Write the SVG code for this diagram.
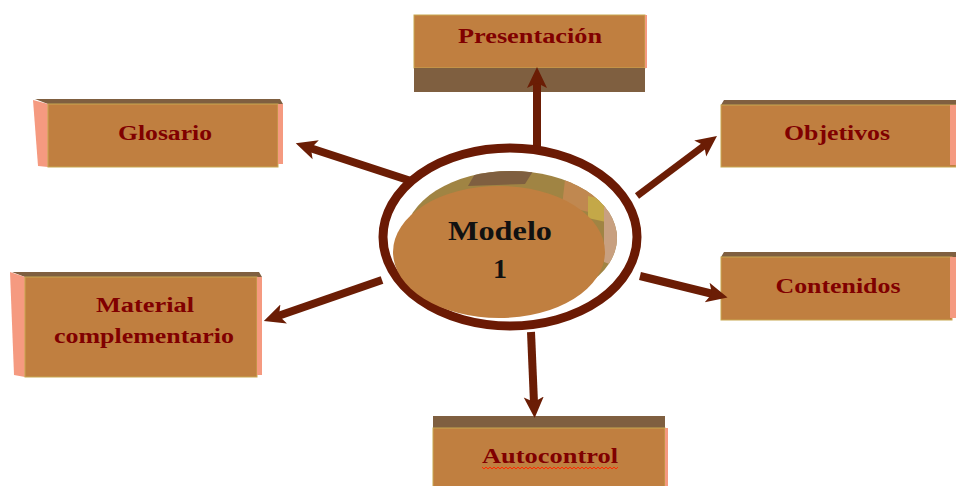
<svg xmlns="http://www.w3.org/2000/svg" width="956" height="486" viewBox="0 0 956 486">
<style>
.front{fill:#c07f40;stroke:#c8a850;stroke-width:1}
.top{fill:#7f5f40}
.side{fill:#f59a80}
.lbl{font-family:"Liberation Serif","DejaVu Serif",serif;font-weight:bold;font-size:20px;fill:#800000;text-anchor:middle}
.conn{stroke:#6b1d05;stroke-width:8;fill:none;marker-end:url(#ah)}
</style>
<defs>
<marker id="ah" markerUnits="userSpaceOnUse" markerWidth="24" markerHeight="24" refX="6" refY="10" orient="auto" viewBox="0 0 24 20">
<path d="M0,0 L21,10 L0,20 L5,10 z" fill="#6b1d05"/>
</marker>
<clipPath id="disc">
<ellipse cx="511" cy="238" rx="106" ry="67"/>
</clipPath>
</defs>
<rect width="956" height="486" fill="#ffffff"/>

<g id="presentacion">
<rect class="front" x="414" y="15" width="231" height="53"/>
<rect class="top" x="414" y="68" width="231" height="24"/>
<rect class="side" x="645" y="15" width="2" height="53"/>
<text class="lbl" x="530" y="43" textLength="144" lengthAdjust="spacingAndGlyphs">Presentación</text>
</g>

<g id="glosario">
<polygon class="top" points="35,99 280,99 283,104 48,104"/>
<polygon class="side" points="33,100 48,104 48,167 38,166"/>
<rect class="front" x="48" y="104" width="230" height="63"/>
<rect class="side" x="278" y="104" width="5" height="60"/>
<text class="lbl" x="165" y="140" textLength="94" lengthAdjust="spacingAndGlyphs">Glosario</text>
</g>

<g id="objetivos">
<polygon class="top" points="724,100 956,100 956,105 721,105"/>
<rect class="front" x="721" y="105" width="235" height="62"/>
<rect class="side" x="950" y="105" width="6" height="60"/>
<text class="lbl" x="837" y="140" textLength="106" lengthAdjust="spacingAndGlyphs">Objetivos</text>
</g>

<g id="contenidos">
<polygon class="top" points="724,252 956,252 956,257 721,257"/>
<rect class="front" x="721" y="257" width="231" height="63"/>
<rect class="side" x="950" y="257" width="6" height="61"/>
<text class="lbl" x="838" y="293" textLength="125" lengthAdjust="spacingAndGlyphs">Contenidos</text>
</g>

<g id="material">
<polygon class="top" points="12,272 259,272 262,277 25,277"/>
<polygon class="side" points="10,272 25,277 25,377 14,375"/>
<rect class="front" x="25" y="277" width="232" height="100"/>
<rect class="side" x="257" y="277" width="5" height="98"/>
<text class="lbl" x="145" y="312" textLength="98" lengthAdjust="spacingAndGlyphs">Material</text>
<text class="lbl" x="144" y="343" textLength="180" lengthAdjust="spacingAndGlyphs">complementario</text>
</g>

<g id="autocontrol">
<rect class="top" x="433" y="416" width="232" height="12"/>
<rect class="front" x="433" y="428" width="232" height="60"/>
<rect class="side" x="665" y="428" width="3" height="58"/>
<text class="lbl" x="550" y="463" textLength="136" lengthAdjust="spacingAndGlyphs">Autocontrol</text>
<polyline points="482,467 484,469 486,467 488,469 490,467 492,469 494,467 496,469 498,467 500,469 502,467 504,469 506,467 508,469 510,467 512,469 514,467 516,469 518,467 520,469 522,467 524,469 526,467 528,469 530,467 532,469 534,467 536,469 538,467 540,469 542,467 544,469 546,467 548,469 550,467 552,469 554,467 556,469 558,467 560,469 562,467 564,469 566,467 568,469 570,467 572,469 574,467 576,469 578,467 580,469 582,467 584,469 586,467 588,469 590,467 592,469 594,467 596,469 598,467 600,469 602,467 604,469 606,467 608,469 610,467 612,469 614,467 616,469 618,467" fill="none" stroke="#ff2a00" stroke-width="1"/>
</g>

<g id="connectors">
<line class="conn" x1="537" y1="147" x2="537" y2="82"/>
<line class="conn" x1="414" y1="182" x2="310" y2="148"/>
<line class="conn" style="stroke-width:7" x1="637" y1="196" x2="705" y2="145"/>
<line class="conn" x1="640" y1="276" x2="713" y2="294"/>
<line class="conn" x1="382" y1="280" x2="278" y2="316"/>
<line class="conn" x1="531" y1="332" x2="534" y2="403"/>
</g>

<g id="modelo">
<ellipse cx="510" cy="237" rx="127" ry="89" fill="#ffffff" stroke="#6b1a04" stroke-width="9"/>
<ellipse cx="511" cy="238" rx="106" ry="67" fill="#a08443"/>
<g clip-path="url(#disc)">
<polygon points="483,160 540,160 525,184 468,186" fill="#7f5f40"/>
<polygon points="565,180 600,190 598,214 562,206" fill="#c08850"/>
<polygon points="588,196 606,200 606,222 588,218" fill="#c4a848"/>
<polygon points="604,205 625,205 625,270 604,262" fill="#c8a080"/>
</g>
<ellipse cx="499" cy="252" rx="106" ry="66" fill="#c07f40"/>
<text x="500" y="240" font-family="'Liberation Serif','DejaVu Serif',serif" font-weight="bold" font-size="28" fill="#111111" text-anchor="middle" textLength="104" lengthAdjust="spacingAndGlyphs">Modelo</text>
<text x="500" y="278" font-family="'Liberation Serif','DejaVu Serif',serif" font-weight="bold" font-size="28" fill="#111111" text-anchor="middle">1</text>
</g>
</svg>
